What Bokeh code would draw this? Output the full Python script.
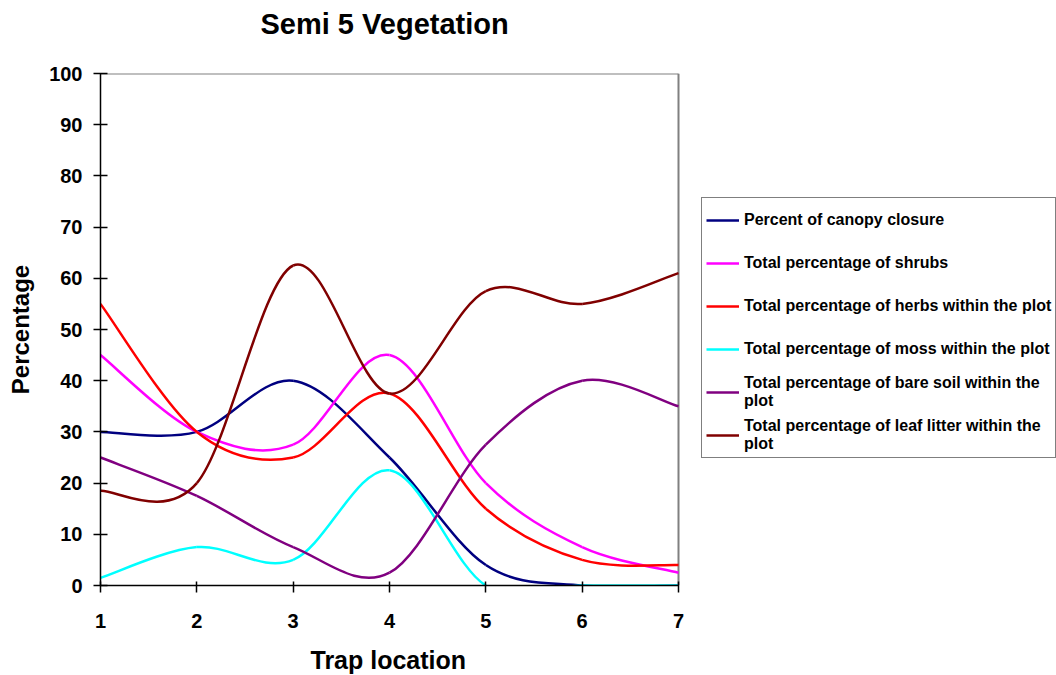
from bokeh.plotting import figure
from bokeh.models import Legend, LegendItem, FixedTicker, Range1d, ColumnDataSource, Title
from bokeh.embed import file_html
from bokeh.resources import INLINE

# ---- data ----
trap = [1, 2, 3, 4, 5, 6, 7]
canopy = [30, 30, 40, 25, 4, 0, 0]
shrubs = [45, 30, 27.5, 45, 20, 7.5, 2.5]
herbs = [55, 30, 25, 37.5, 15, 5, 4]
moss = [1.5, 7.5, 5, 22.5, 0, 0, 0]
bare_soil = [25, 17.5, 7.5, 2.5, 27.5, 40, 35]
leaf_litter = [18.5, 20, 62.5, 37.5, 57.5, 55, 61]
y_ticks = list(range(0, 101, 10))

series_names = [
    "Percent of canopy closure",
    "Total percentage of shrubs",
    "Total percentage of herbs within the plot",
    "Total percentage of moss within the plot",
    "Total percentage of bare soil within the\nplot",
    "Total percentage of leaf litter within the\nplot",
]
series_values = [canopy, shrubs, herbs, moss, bare_soil, leaf_litter]
series_colors = ["#000080", "#FF00FF", "#FF0000", "#00FFFF", "#800080", "#800000"]

FONT = "Liberation Sans"

# layout: plot area is 100..678 px wide; frame extends to the window edge so the
# legend (outside the plot area) can sit inside the frame.
W, H = 1056, 675
LEFT, PLOT_RIGHT, TOP, BOTTOM = 100, 678, 73, 90
x_lo, x_hi = trap[0], trap[-1]
px_per_unit = (PLOT_RIGHT - LEFT) / (x_hi - x_lo)
x_end = x_lo + (W - LEFT) / px_per_unit


def smooth_segments(xs, ys, k=1.0 / 6.0):
    """Catmull-Rom style bezier segments (like a spreadsheet 'smoothed line')."""
    n = len(xs)
    d = dict(x0=[], y0=[], x1=[], y1=[], cx0=[], cy0=[], cx1=[], cy1=[])
    for i in range(n - 1):
        xp, yp = (xs[i - 1], ys[i - 1]) if i > 0 else (xs[i], ys[i])
        xn, yn = (xs[i + 2], ys[i + 2]) if i + 2 < n else (xs[i + 1], ys[i + 1])
        d["x0"].append(xs[i]); d["y0"].append(ys[i])
        d["x1"].append(xs[i + 1]); d["y1"].append(ys[i + 1])
        d["cx0"].append(xs[i] + (xs[i + 1] - xp) * k)
        d["cy0"].append(ys[i] + (ys[i + 1] - yp) * k)
        d["cx1"].append(xs[i + 1] - (xn - xs[i]) * k)
        d["cy1"].append(ys[i + 1] - (yn - ys[i]) * k)
    return d


p = figure(
    width=W, height=H,
    output_backend="svg", toolbar_location=None,
    x_range=Range1d(x_lo, x_end), y_range=Range1d(y_ticks[0], y_ticks[-1]),
    min_border_left=LEFT, min_border_right=0,
    min_border_top=TOP, min_border_bottom=BOTTOM,
    title=None,
)
p.background_fill_color = "white"
p.border_fill_color = "white"
p.outline_line_color = None
p.xgrid.visible = False
p.ygrid.visible = False

# chart title (a spacer title keeps it up near the window top)
spacer_top = Title(text=" ", text_font=FONT, text_font_size="29px",
                   text_font_style="bold", standoff=0)
main_title = Title(text="Semi 5 Vegetation", text_font=FONT, text_font_size="29px",
                   text_font_style="bold", text_color="black",
                   align="left", offset=160, vertical_align="bottom", standoff=0)
p.add_layout(spacer_top, "above")
p.add_layout(main_title, "above")

for ax in (p.xaxis[0], p.yaxis[0]):
    ax.axis_line_color = "black"
    ax.axis_line_width = 1.5
    ax.major_tick_line_color = "black"
    ax.major_tick_line_width = 1.5
    ax.minor_tick_line_color = None
    ax.major_label_text_font = FONT
    ax.major_label_text_font_style = "bold"
    ax.major_label_text_font_size = "20px"
    ax.major_label_text_color = "black"
    ax.axis_label_text_font = FONT
    ax.axis_label_text_font_style = "bold"
    ax.axis_label_text_font_size = "24px"
    ax.axis_label_text_color = "black"

p.xaxis.ticker = FixedTicker(ticks=trap)
p.xaxis.bounds = (x_lo, x_hi)
p.yaxis.ticker = FixedTicker(ticks=y_ticks)
p.yaxis.axis_label = "Percentage"
p.xaxis.major_tick_in = 4
p.xaxis.major_tick_out = 7
p.yaxis.major_tick_in = 7
p.yaxis.major_tick_out = 7
p.xaxis.major_label_standoff = 21
p.yaxis.major_label_standoff = 11
p.yaxis.axis_label_standoff = 12

# x-axis title, centred under the plot area (not the wider frame)
spacer_bottom = Title(text=" ", text_font=FONT, text_font_size="25px",
                      text_font_style="bold", standoff=-16)
x_title = Title(text="Trap location", text_font=FONT, text_font_size="25px",
                text_font_style="bold", text_color="black",
                align="left", offset=210, vertical_align="middle", standoff=0)
p.below = [p.xaxis[0], spacer_bottom, x_title]

# grey plot-area border (top and right)
p.segment(x0=[x_lo, x_hi], y0=[y_ticks[-1], y_ticks[0]],
          x1=[x_hi, x_hi], y1=[y_ticks[-1], y_ticks[-1]],
          line_color="#808080", line_width=2)

items = []
for name, vals, col in zip(series_names, series_values, series_colors):
    src = ColumnDataSource(smooth_segments(trap, vals))
    r = p.bezier(x0="x0", y0="y0", x1="x1", y1="y1",
                 cx0="cx0", cy0="cy0", cx1="cx1", cy1="cy1",
                 source=src, line_color=col, line_width=2.5)
    items.append(LegendItem(label=name, renderers=[r]))

legend = Legend(
    items=items,
    location=(601, 127),
    border_line_color="black",
    border_line_width=1,
    background_fill_color="white",
    background_fill_alpha=1,
    label_text_font=FONT,
    label_text_font_style="bold",
    label_text_font_size="16px",
    label_text_color="black",
    glyph_width=33,
    glyph_height=20,
    label_standoff=5,
    label_height=36,
    spacing=7,
    padding=4,
    margin=0,
)
p.add_layout(legend, "center")

open("out.html", "w").write(file_html(p, INLINE))
